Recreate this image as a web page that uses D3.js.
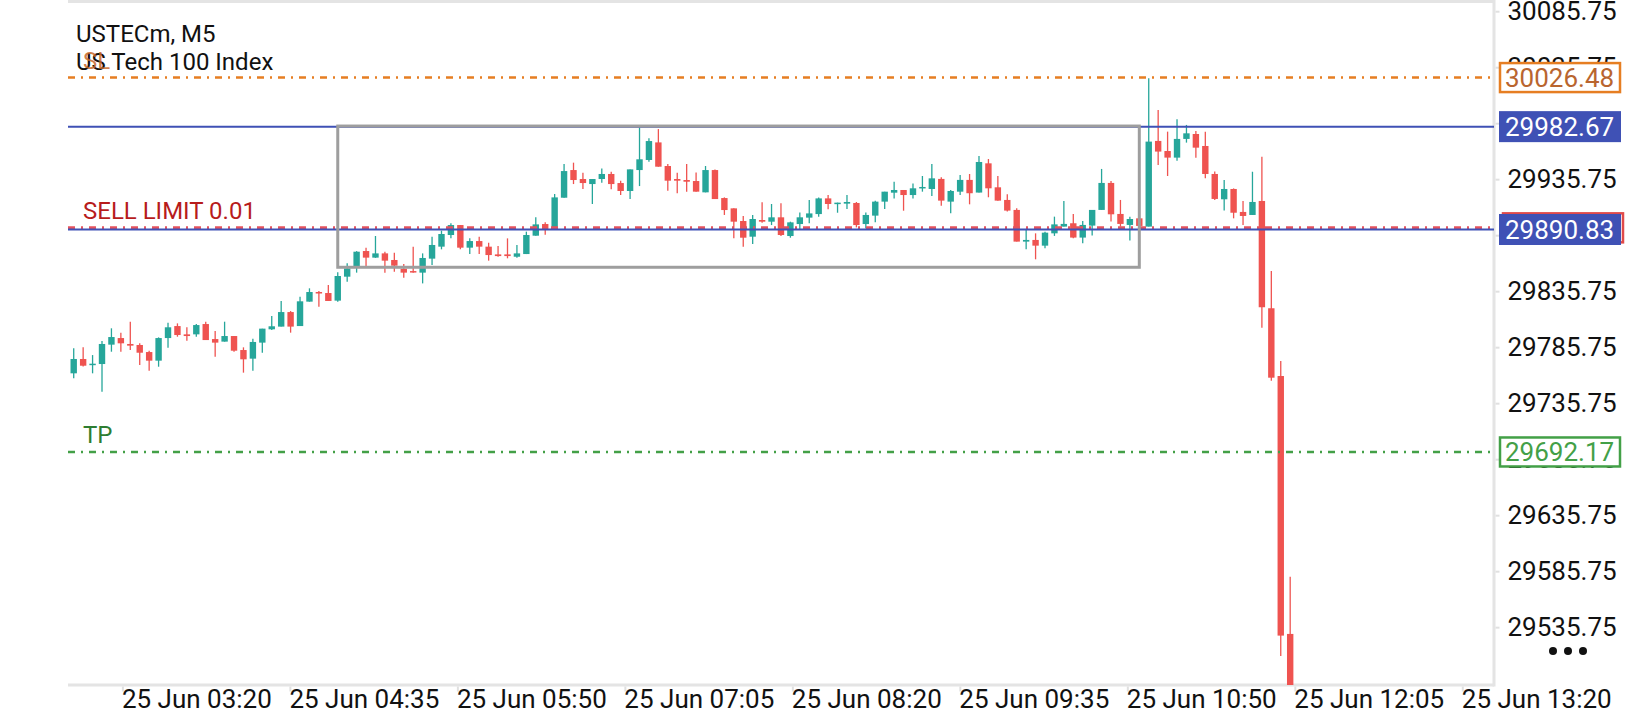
<!DOCTYPE html>
<html>

<head>
  <meta charset="utf-8">
  <title>USTECm, M5</title>
  <script src="https://cdn.jsdelivr.net/npm/d3@7/dist/d3.min.js"></script>
  <style>
    body { margin: 0; background: #fff; }
    text { font-family: Roboto, "Noto Sans", sans-serif; }
  </style>
</head>

<body>
  <svg width="1640" height="720" id="mainsvg"></svg>
  <script>
    // candle data, 5 minute bars
    const opens = [29762.4, 29775.2, 29770.0, 29770.7, 29788.0, 29793.9, 29788.6, 29787.7, 29781.4, 29773.7,
      29793.9, 29804.6, 29797.2, 29797.2, 29806.4, 29793.0, 29790.7, 29795.7, 29783.2, 29775.5,
      29789.8, 29801.7, 29804.1, 29817.1, 29804.6, 29826.4, 29835.0, 29834.1, 29827.3, 29848.7,
      29858.2, 29871.6, 29865.7, 29869.5, 29863.6, 29855.8, 29853.7, 29852.3, 29864.8, 29875.5,
      29885.9, 29894.8, 29874.6, 29880.5, 29875.5, 29868.6, 29868.6, 29866.5, 29868.9, 29885.3,
      29895.7, 29891.0, 29919.2, 29943.9, 29935.9, 29931.4, 29935.9, 29940.4, 29932.3, 29925.2,
      29943.9, 29952.9, 29968.6, 29947.5, 29935.9, 29935.0, 29934.1, 29924.0, 29943.9, 29918.9,
      29909.7, 29898.4, 29884.4, 29899.3, 29897.8, 29901.7, 29885.0, 29895.7, 29901.4, 29904.6,
      29918.6, 29913.9, 29913.9, 29914.5, 29895.7, 29903.2, 29915.7, 29923.7, 29926.1, 29921.6,
      29928.1, 29927.0, 29936.0, 29915.7, 29924.6, 29935.1, 29923.8, 29949.9, 29928.5, 29917.2,
      29908.3, 29880.0, 29881.5, 29876.4, 29887.4, 29893.4, 29896.4, 29883.6, 29894.3, 29908.3,
      29932.4, 29904.7, 29894.9, 29900.8, 29893.4, 29969.9, 29960.9, 29955.0, 29971.7, 29976.1,
      29965.4, 29940.4, 29917.8, 29927.0, 29906.5, 29903.8, 29916.3, 29820.5, 29760.0, 29529.7];
    const highs = [29784.7, 29785.6, 29778.7, 29791.2, 29802.6, 29798.7, 29808.5, 29789.2, 29782.6, 29794.5,
      29807.6, 29807.0, 29803.5, 29806.4, 29808.5, 29800.2, 29808.5, 29795.7, 29785.6, 29793.3,
      29802.3, 29813.6, 29826.9, 29818.0, 29830.8, 29838.3, 29835.9, 29841.3, 29852.6, 29860.6,
      29871.5, 29874.6, 29885.0, 29871.0, 29870.1, 29860.0, 29875.5, 29869.5, 29884.4, 29889.8,
      29896.3, 29894.8, 29882.9, 29884.4, 29879.0, 29876.1, 29882.9, 29877.0, 29888.9, 29901.7,
      29897.2, 29922.5, 29949.3, 29950.5, 29941.5, 29935.9, 29945.4, 29942.4, 29934.4, 29944.5,
      29982.0, 29972.2, 29980.5, 29949.3, 29941.5, 29949.3, 29941.8, 29947.5, 29944.5, 29919.5,
      29909.7, 29902.9, 29903.8, 29915.1, 29913.6, 29914.2, 29897.8, 29906.1, 29917.1, 29919.5,
      29921.6, 29914.8, 29921.6, 29915.4, 29906.1, 29916.6, 29924.6, 29933.5, 29926.1, 29932.0,
      29938.6, 29949.3, 29937.4, 29926.1, 29939.5, 29940.4, 29956.5, 29953.8, 29938.6, 29922.3,
      29909.8, 29890.4, 29887.4, 29888.9, 29902.3, 29916.3, 29904.7, 29898.5, 29908.3, 29944.9,
      29934.2, 29917.2, 29902.3, 29901.0, 30025.8, 29997.5, 29978.2, 29989.2, 29984.2, 29978.8,
      29978.2, 29942.5, 29935.0, 29927.5, 29916.3, 29942.4, 29955.8, 29853.8, 29773.4, 29580.8];
    const lows = [29757.9, 29768.5, 29762.4, 29746.0, 29781.7, 29781.7, 29783.2, 29769.8, 29764.8, 29768.3,
      29785.3, 29795.1, 29791.5, 29795.1, 29792.1, 29777.3, 29790.7, 29781.7, 29763.0, 29764.8,
      29780.8, 29801.1, 29804.1, 29798.7, 29804.6, 29826.4, 29821.9, 29827.0, 29826.4, 29844.2,
      29852.3, 29858.2, 29865.5, 29852.3, 29853.2, 29847.8, 29852.3, 29842.7, 29859.1, 29873.1,
      29882.9, 29873.1, 29868.9, 29868.9, 29863.0, 29866.5, 29865.1, 29865.7, 29868.9, 29885.3,
      29886.2, 29891.0, 29919.2, 29931.4, 29927.0, 29913.6, 29932.6, 29926.7, 29921.6, 29918.0,
      29929.6, 29951.4, 29946.9, 29925.5, 29923.1, 29924.6, 29924.6, 29924.0, 29918.0, 29903.8,
      29882.9, 29875.5, 29877.9, 29896.9, 29894.8, 29885.0, 29883.5, 29891.3, 29896.3, 29902.3,
      29908.8, 29905.8, 29909.1, 29892.7, 29891.8, 29897.2, 29909.1, 29918.6, 29907.6, 29918.6,
      29924.6, 29920.7, 29912.1, 29905.3, 29921.7, 29913.3, 29923.8, 29919.6, 29916.6, 29906.8,
      29880.0, 29873.1, 29864.2, 29874.0, 29885.1, 29893.4, 29883.0, 29878.5, 29885.4, 29908.3,
      29897.9, 29893.4, 29880.9, 29893.0, 29893.4, 29948.5, 29938.6, 29952.3, 29968.4, 29955.0,
      29936.5, 29917.2, 29907.7, 29900.8, 29894.8, 29903.8, 29803.2, 29755.8, 29510.0, 29460.0];
    const closes = [29775.2, 29769.2, 29771.0, 29788.6, 29794.8, 29789.2, 29787.1, 29780.8, 29773.7, 29793.9,
      29803.5, 29796.6, 29795.7, 29805.5, 29792.1, 29789.8, 29795.7, 29782.6, 29774.9, 29790.4,
      29802.3, 29804.4, 29817.1, 29804.1, 29826.7, 29835.0, 29833.8, 29827.0, 29849.3, 29856.1,
      29871.0, 29865.7, 29869.5, 29863.0, 29858.5, 29852.3, 29852.6, 29865.4, 29877.0, 29886.8,
      29894.8, 29874.6, 29880.5, 29875.5, 29868.0, 29867.1, 29867.1, 29869.5, 29885.9, 29895.4,
      29891.0, 29919.5, 29943.0, 29935.0, 29932.3, 29935.9, 29940.4, 29931.4, 29925.2, 29944.5,
      29953.5, 29969.8, 29946.9, 29934.4, 29934.4, 29933.5, 29924.6, 29943.9, 29918.0, 29908.2,
      29897.8, 29883.5, 29900.2, 29897.8, 29901.7, 29885.9, 29897.2, 29901.7, 29905.2, 29918.6,
      29913.6, 29914.8, 29915.4, 29894.8, 29903.8, 29915.7, 29924.6, 29926.1, 29921.6, 29927.6,
      29928.8, 29936.5, 29916.6, 29925.2, 29935.1, 29923.2, 29951.1, 29927.6, 29916.6, 29907.7,
      29880.0, 29881.5, 29876.4, 29888.0, 29895.4, 29895.8, 29883.6, 29894.9, 29908.3, 29932.4,
      29904.4, 29895.8, 29900.2, 29894.0, 29969.3, 29960.4, 29955.0, 29971.7, 29976.7, 29963.9,
      29940.4, 29918.1, 29927.0, 29905.8, 29902.9, 29915.4, 29821.4, 29758.5, 29528.2, 29470.0];

    const timeLabels = ['25 Jun 03:20', '25 Jun 04:35', '25 Jun 05:50', '25 Jun 07:05', '25 Jun 08:20',
      '25 Jun 09:35', '25 Jun 10:50', '25 Jun 12:05', '25 Jun 13:20'];
    const priceTicks = [30085.75, 30035.75, 29985.75, 29935.75, 29885.75, 29835.75, 29785.75,
      29735.75, 29685.75, 29635.75, 29585.75, 29535.75];

    // horizontal levels drawn on the chart
    const levelNames = ['SL', 'High', 'Sell limit', 'Entry', 'TP'];
    const levelPrices = [30026.48, 29982.67, 29892.3, 29890.83, 29692.17];

    // grey box: first / last candle index, top / bottom price
    const boxCandles = [28, 113];
    const boxPrices = [29983.2, 29857.1];

    const svg = d3.select('svg');
    const width = +svg.attr('width');
    const height = +svg.attr('height');
    const margin = {top: 2, right: 146, bottom: 35, left: 68};
    const plotRight = width - margin.right;
    const plotBottom = height - margin.bottom;
    const step = 9.43;
    const n = opens.length;
    const axisFont = 26;

    const candles = d3.range(n).map(i => ({
      i: i, o: opens[i], h: highs[i], l: lows[i], c: closes[i]
    }));

    const x = d3.scaleBand()
      .domain(d3.range(n))
      .range([margin.left + 1, margin.left + 1 + n * step]);
    const cx = i => x(i) + x.bandwidth() / 2;
    const y = d3.scaleLinear()
      .domain([29484.1, 30093.96])
      .range([plotBottom, margin.top]);
    const xt = d3.scalePoint()
      .domain(timeLabels)
      .range([122.4, 1462.3]);

    const up = '#26a69a', down = '#ef5350';

    svg.append('defs').append('clipPath').attr('id', 'plotclip')
      .append('rect')
      .attr('x', margin.left).attr('y', margin.top)
      .attr('width', plotRight - margin.left).attr('height', plotBottom - margin.top);

    // frame: top line, right axis line, bottom axis line
    const frame = svg.append('g').attr('stroke', '#e4e4e4').attr('stroke-width', 3);
    frame.append('line').attr('x1', margin.left).attr('x2', plotRight).attr('y1', 1.5).attr('y2', 1.5);
    frame.append('line').attr('x1', plotRight).attr('x2', plotRight).attr('y1', 0).attr('y2', plotBottom + 1.5);
    frame.append('line').attr('x1', margin.left).attr('x2', plotRight).attr('y1', plotBottom).attr('y2', plotBottom);

    // candles
    const cg = svg.append('g').attr('clip-path', 'url(#plotclip)');
    cg.selectAll('.wick').data(candles).join('line')
      .attr('class', 'wick')
      .attr('x1', d => cx(d.i)).attr('x2', d => cx(d.i))
      .attr('y1', d => y(d.h)).attr('y2', d => y(d.l))
      .attr('stroke', d => d.c >= d.o ? up : down)
      .attr('stroke-width', 1.3);
    cg.selectAll('.body').data(candles).join('rect')
      .attr('class', 'body')
      .attr('x', d => cx(d.i) - 3.2)
      .attr('width', 6.4)
      .attr('y', d => y(Math.max(d.o, d.c)))
      .attr('height', d => Math.max(1.5, Math.abs(y(d.o) - y(d.c))))
      .attr('fill', d => d.c >= d.o ? up : down);

    // level lines
    const levelStyle = {
      'SL': {stroke: '#e67e22', width: 2.5, dash: '7,6,2,6'},
      'High': {stroke: '#3f51b5', width: 2, dash: null},
      'Sell limit': {stroke: '#e5535d', width: 3, dash: '7,6,2,6'},
      'Entry': {stroke: '#3f51b5', width: 2, dash: null},
      'TP': {stroke: '#43a047', width: 2.5, dash: '7,6,2,6'}
    };
    const levels = levelNames.map((name, k) => ({name: name, price: levelPrices[k]}));
    svg.append('g').selectAll('line').data(levels).join('line')
      .attr('x1', margin.left).attr('x2', plotRight)
      .attr('y1', d => y(d.price)).attr('y2', d => y(d.price))
      .attr('stroke', d => levelStyle[d.name].stroke)
      .attr('stroke-width', d => levelStyle[d.name].width)
      .attr('stroke-dasharray', d => levelStyle[d.name].dash);

    // grey range box
    svg.append('rect')
      .attr('x', cx(boxCandles[0]))
      .attr('y', y(boxPrices[0]))
      .attr('width', cx(boxCandles[1]) - cx(boxCandles[0]))
      .attr('height', y(boxPrices[1]) - y(boxPrices[0]))
      .attr('fill', 'none')
      .attr('stroke', '#9e9e9e')
      .attr('stroke-width', 3);

    // price axis
    const yAxis = svg.append('g')
      .attr('transform', `translate(${plotRight + 1.5},0)`)
      .call(d3.axisRight(y).tickValues(priceTicks).tickSize(4).tickPadding(8).tickFormat(d3.format('.2f')));
    yAxis.select('.domain').remove();
    yAxis.selectAll('.tick line').attr('stroke', '#e0e0e0').attr('stroke-width', 2);
    yAxis.selectAll('.tick text').attr('fill', '#111').attr('font-size', axisFont)
      .attr('font-family', 'Roboto, sans-serif');

    // time axis
    const xAxis = svg.append('g')
      .attr('transform', `translate(0,${plotBottom + 1.5})`)
      .call(d3.axisBottom(xt).tickSize(5));
    xAxis.select('.domain').remove();
    xAxis.selectAll('.tick line').attr('stroke', '#e0e0e0').attr('stroke-width', 2);
    xAxis.selectAll('.tick text').attr('fill', '#111').attr('font-size', axisFont)
      .attr('text-anchor', 'start').attr('dx', -1).attr('y', 21.5).attr('dy', 0)
      .attr('font-family', 'Roboto, sans-serif');

    // price labels on the axis
    const boxStyle = {
      'SL': {fill: '#fff', stroke: '#e67e22', text: '#b9652f', dx: 0},
      'High': {fill: '#3f51b5', stroke: '#3f51b5', text: '#fff', dx: 0},
      'Sell limit': {fill: '#fff', stroke: '#e04a4a', text: '#e04a4a', dx: 3},
      'Entry': {fill: '#3f51b5', stroke: '#3f51b5', text: '#fff', dx: 0},
      'TP': {fill: '#fff', stroke: '#43a047', text: '#43a047', dx: 0}
    };
    const tags = svg.append('g').selectAll('g').data(levels).join('g')
      .attr('transform', d => `translate(${plotRight + 5 + boxStyle[d.name].dx},${y(d.price) - 15.5})`);
    tags.append('rect')
      .attr('x', d => boxStyle[d.name].fill === '#fff' ? 1 : 0)
      .attr('y', d => boxStyle[d.name].fill === '#fff' ? 1 : 0)
      .attr('width', d => boxStyle[d.name].fill === '#fff' ? 120 : 122)
      .attr('height', d => boxStyle[d.name].fill === '#fff' ? 29 : 31)
      .attr('fill', d => boxStyle[d.name].fill)
      .attr('stroke', d => boxStyle[d.name].fill === '#fff' ? boxStyle[d.name].stroke : 'none')
      .attr('stroke-width', 2.5);
    tags.append('text')
      .attr('x', 6).attr('y', 25)
      .attr('font-size', axisFont)
      .attr('fill', d => boxStyle[d.name].text)
      .text(d => d3.format('.2f')(d.price));

    // texts on the chart
    svg.append('text').attr('x', 76).attr('y', 42).attr('font-size', 24).attr('fill', '#111').text('USTECm, M5');
    svg.append('text').attr('x', 76).attr('y', 70).attr('font-size', 24).attr('fill', '#111').text('US Tech 100 Index');
    const tagText = [
      {name: 'SL', text: 'SL', color: '#c8692c'},
      {name: 'Sell limit', text: 'SELL LIMIT 0.01', color: '#b71c1c'},
      {name: 'TP', text: 'TP', color: '#2e7d32'}
    ];
    svg.append('g').selectAll('text').data(tagText).join('text')
      .attr('x', 83)
      .attr('y', d => y(levelPrices[levelNames.indexOf(d.name)]) - 9)
      .attr('font-size', 24)
      .attr('fill', d => d.color)
      .attr('fill-opacity', d => d.name === 'SL' ? 0.85 : 1)
      .text(d => d.text);

    // "more" dots
    svg.append('g').selectAll('circle').data([0, 1, 2]).join('circle')
      .attr('cx', d => 1553 + d * 15).attr('cy', 651).attr('r', 4).attr('fill', '#111');
  </script>
</body>

</html>
